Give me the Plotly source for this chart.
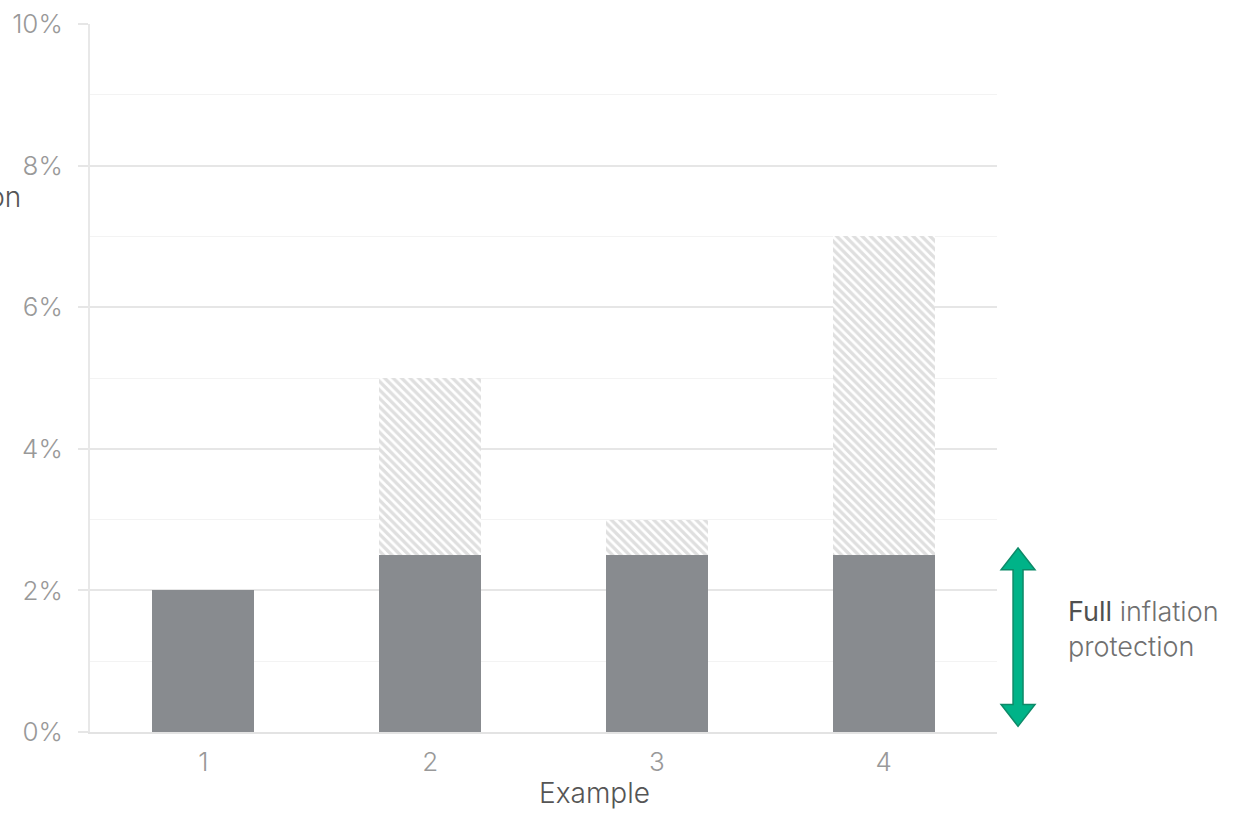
import plotly.graph_objects as go

categories = ["1", "2", "3", "4"]
base_values = [2.0, 2.5, 2.5, 2.5]
extra_values = [0.0, 2.5, 0.5, 4.5]
y_ticks = [0, 2, 4, 6, 8, 10]
y_tick_labels = ["0%", "2%", "4%", "6%", "8%", "10%"]
arrow_range = [0.08, 2.6]

FONT = "Inter"
W = 300
fig = go.Figure()
fig.add_trace(go.Bar(
    x=categories, y=base_values, marker=dict(color="#888b8f", line=dict(width=0)),
    width=0.45, hoverinfo="skip", showlegend=False))
fig.add_trace(go.Bar(
    x=categories, y=extra_values,
    marker=dict(color="white", line=dict(width=0),
                pattern=dict(shape="\\", fgcolor="#bfbfbf", bgcolor="white", size=6, solidity=0.55)),
    width=0.45, hoverinfo="skip", showlegend=False))

# double-headed arrow as a filled polygon (x in paper, y in data)
xc = 1.0232
sw = 0.0055
hw = 0.0187
hh = 0.31
y0, y1 = arrow_range
path = (f"M {xc},{y1} L {xc+hw},{y1-hh} L {xc+sw},{y1-hh} L {xc+sw},{y0+hh} "
        f"L {xc+hw},{y0+hh} L {xc},{y0} L {xc-hw},{y0+hh} L {xc-sw},{y0+hh} "
        f"L {xc-sw},{y1-hh} L {xc-hw},{y1-hh} Z")
fig.add_shape(type="path", path=path, xref="paper", yref="y",
              fillcolor="#00b388", line=dict(color="#0d8a68", width=1.5), layer="above")

fig.add_annotation(x=1.076, y=1.46, xref="paper", yref="y", xanchor="left", yanchor="middle",
                   align="left", showarrow=False,
                   text="<span style='color:#505050;font-weight:400'>Full</span> inflation<br>protection",
                   font=dict(family=FONT, size=27, color="#707070", weight=W))

fig.add_annotation(x=-0.074, y=0.756, xref="paper", yref="paper", xanchor="right", yanchor="middle",
                   showarrow=False, text="Inflation",
                   font=dict(family=FONT, size=28, color="#555555", weight=W))

# x-axis title as annotation (centred as in the reference)
fig.add_annotation(x=0.5557, y=-0.0865, xref="paper", yref="paper", xanchor="center", yanchor="middle",
                   showarrow=False, text="Example",
                   font=dict(family=FONT, size=28, color="#555555", weight=W))

fig.update_layout(
    barmode="stack",
    width=1246, height=814,
    margin=dict(l=90, r=249, t=24, b=82),
    paper_bgcolor="white", plot_bgcolor="white",
    font=dict(family=FONT, color="#999999"),
)
fig.update_xaxes(
    showline=True, linecolor="#e3e3e3", linewidth=2, showgrid=False, ticks="",
    tickfont=dict(size=26, color="#999999", family=FONT, weight=W),
    ticklabelstandoff=6, automargin=False,
)
fig.update_yaxes(
    range=[0, 10], tickvals=y_ticks, ticktext=y_tick_labels,
    showline=True, linecolor="#e8e8e8", linewidth=2,
    showgrid=True, gridcolor="#e6e6e6", gridwidth=1.5,
    ticks="outside", ticklen=10, tickcolor="#e6e6e6", tickwidth=1.5,
    tickfont=dict(size=26, color="#999999", family=FONT, weight=W),
    ticklabelstandoff=10, automargin=False,
    minor=dict(dtick=1, showgrid=True, gridcolor="#f3f3f3", gridwidth=1),
    zeroline=False,
)
fig.write_html("out.html")
